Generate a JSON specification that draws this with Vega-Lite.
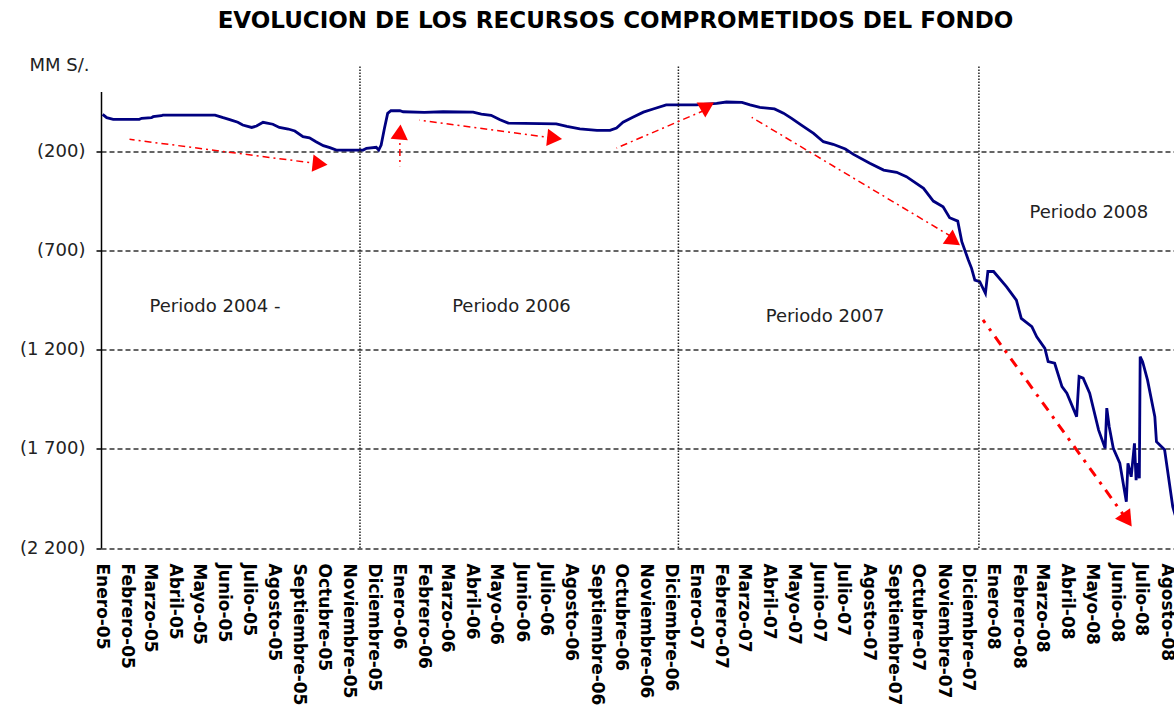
{
  "$schema": "https://vega.github.io/schema/vega-lite/v6.json",
  "width": 1075,
  "height": 456.5,
  "autosize": {"type": "none"},
  "padding": {"left": 101, "top": 91.5, "right": 0, "bottom": 157},
  "background": "white",
  "title": {
    "text": "EVOLUCION DE LOS RECURSOS COMPROMETIDOS DEL FONDO",
    "font": "DejaVu Sans",
    "fontSize": 23,
    "fontWeight": "bold",
    "color": "#000000",
    "anchor": "middle",
    "dx": -23,
    "offset": 24
  },
  "config": {
    "view": {"stroke": null}
  },
  "datasets": {
    "serie": [
      {"fecha": "2005-01-03", "valor": -15},
      {"fecha": "2005-01-08", "valor": -32},
      {"fecha": "2005-01-16", "valor": -40},
      {"fecha": "2005-02-17", "valor": -40},
      {"fecha": "2005-02-20", "valor": -35},
      {"fecha": "2005-03-04", "valor": -32},
      {"fecha": "2005-03-06", "valor": -27},
      {"fecha": "2005-03-16", "valor": -22},
      {"fecha": "2005-03-18", "valor": -19},
      {"fecha": "2005-05-21", "valor": -19},
      {"fecha": "2005-05-31", "valor": -32},
      {"fecha": "2005-06-10", "valor": -44},
      {"fecha": "2005-06-18", "valor": -55},
      {"fecha": "2005-06-24", "valor": -69},
      {"fecha": "2005-07-05", "valor": -81},
      {"fecha": "2005-07-11", "valor": -74},
      {"fecha": "2005-07-19", "valor": -55},
      {"fecha": "2005-07-31", "valor": -65},
      {"fecha": "2005-08-08", "valor": -81},
      {"fecha": "2005-08-19", "valor": -89},
      {"fecha": "2005-08-27", "valor": -99},
      {"fecha": "2005-09-06", "valor": -128},
      {"fecha": "2005-09-14", "valor": -133},
      {"fecha": "2005-09-22", "valor": -153},
      {"fecha": "2005-10-01", "valor": -173},
      {"fecha": "2005-10-09", "valor": -183},
      {"fecha": "2005-10-17", "valor": -195},
      {"fecha": "2005-11-19", "valor": -195},
      {"fecha": "2005-11-23", "valor": -186},
      {"fecha": "2005-12-05", "valor": -181},
      {"fecha": "2005-12-08", "valor": -195},
      {"fecha": "2005-12-11", "valor": -170},
      {"fecha": "2005-12-15", "valor": -86},
      {"fecha": "2005-12-19", "valor": -10},
      {"fecha": "2005-12-23", "valor": 3},
      {"fecha": "2006-01-03", "valor": 3},
      {"fecha": "2006-01-07", "valor": -2},
      {"fecha": "2006-02-02", "valor": -5},
      {"fecha": "2006-02-25", "valor": -2},
      {"fecha": "2006-04-03", "valor": -4},
      {"fecha": "2006-04-13", "valor": -14},
      {"fecha": "2006-04-25", "valor": -20},
      {"fecha": "2006-05-06", "valor": -42},
      {"fecha": "2006-05-16", "valor": -59},
      {"fecha": "2006-07-14", "valor": -63},
      {"fecha": "2006-07-27", "valor": -76},
      {"fecha": "2006-08-12", "valor": -88},
      {"fecha": "2006-09-02", "valor": -96},
      {"fecha": "2006-09-18", "valor": -96},
      {"fecha": "2006-09-26", "valor": -84},
      {"fecha": "2006-10-04", "valor": -55},
      {"fecha": "2006-10-16", "valor": -30},
      {"fecha": "2006-10-29", "valor": -4},
      {"fecha": "2006-11-10", "valor": 12},
      {"fecha": "2006-11-26", "valor": 33},
      {"fecha": "2007-01-02", "valor": 33},
      {"fecha": "2007-01-27", "valor": 40},
      {"fecha": "2007-02-08", "valor": 47},
      {"fecha": "2007-02-27", "valor": 45},
      {"fecha": "2007-03-09", "valor": 33},
      {"fecha": "2007-03-21", "valor": 20},
      {"fecha": "2007-04-08", "valor": 12},
      {"fecha": "2007-04-19", "valor": -9},
      {"fecha": "2007-04-29", "valor": -35},
      {"fecha": "2007-05-11", "valor": -69},
      {"fecha": "2007-05-26", "valor": -111},
      {"fecha": "2007-06-07", "valor": -153},
      {"fecha": "2007-06-19", "valor": -166},
      {"fecha": "2007-07-04", "valor": -190},
      {"fecha": "2007-07-14", "valor": -217},
      {"fecha": "2007-08-03", "valor": -262},
      {"fecha": "2007-08-20", "valor": -296},
      {"fecha": "2007-09-05", "valor": -307},
      {"fecha": "2007-09-17", "valor": -329},
      {"fecha": "2007-10-08", "valor": -388},
      {"fecha": "2007-10-20", "valor": -452},
      {"fecha": "2007-11-01", "valor": -481},
      {"fecha": "2007-11-09", "valor": -536},
      {"fecha": "2007-11-19", "valor": -553},
      {"fecha": "2007-11-24", "valor": -657},
      {"fecha": "2007-12-02", "valor": -749},
      {"fecha": "2007-12-06", "valor": -791},
      {"fecha": "2007-12-10", "valor": -850},
      {"fecha": "2007-12-16", "valor": -858},
      {"fecha": "2007-12-23", "valor": -917},
      {"fecha": "2007-12-26", "valor": -807},
      {"fecha": "2008-01-02", "valor": -807},
      {"fecha": "2008-01-18", "valor": -884},
      {"fecha": "2008-01-30", "valor": -951},
      {"fecha": "2008-02-05", "valor": -1043},
      {"fecha": "2008-02-18", "valor": -1085},
      {"fecha": "2008-02-24", "valor": -1136},
      {"fecha": "2008-03-05", "valor": -1194},
      {"fecha": "2008-03-09", "valor": -1261},
      {"fecha": "2008-03-17", "valor": -1269},
      {"fecha": "2008-03-26", "valor": -1387},
      {"fecha": "2008-04-01", "valor": -1420},
      {"fecha": "2008-04-13", "valor": -1538},
      {"fecha": "2008-04-16", "valor": -1336},
      {"fecha": "2008-04-21", "valor": -1344},
      {"fecha": "2008-04-29", "valor": -1420},
      {"fecha": "2008-05-10", "valor": -1606},
      {"fecha": "2008-05-18", "valor": -1698},
      {"fecha": "2008-05-20", "valor": -1495},
      {"fecha": "2008-05-23", "valor": -1589},
      {"fecha": "2008-05-28", "valor": -1698},
      {"fecha": "2008-06-05", "valor": -1773},
      {"fecha": "2008-06-13", "valor": -1967},
      {"fecha": "2008-06-15", "valor": -1773},
      {"fecha": "2008-06-19", "valor": -1841},
      {"fecha": "2008-06-23", "valor": -1673},
      {"fecha": "2008-06-25", "valor": -1858},
      {"fecha": "2008-06-27", "valor": -1773},
      {"fecha": "2008-06-29", "valor": -1849},
      {"fecha": "2008-06-30", "valor": -1236},
      {"fecha": "2008-07-03", "valor": -1261},
      {"fecha": "2008-07-09", "valor": -1353},
      {"fecha": "2008-07-18", "valor": -1538},
      {"fecha": "2008-07-20", "valor": -1664},
      {"fecha": "2008-07-30", "valor": -1705},
      {"fecha": "2008-08-09", "valor": -1992},
      {"fecha": "2008-08-12", "valor": -2034}
    ],
    "flechas": [
      {"flecha": 1, "pt": "ini", "fecha": "2005-02-05", "valor": -141},
      {"flecha": 1, "pt": "fin", "fecha": "2005-09-27", "valor": -265},
      {"flecha": 2, "pt": "ini", "fecha": "2006-01-03", "valor": -276},
      {"flecha": 2, "pt": "fin", "fecha": "2006-01-03", "valor": -104},
      {"flecha": 3, "pt": "ini", "fecha": "2006-01-27", "valor": -44},
      {"flecha": 3, "pt": "fin", "fecha": "2006-07-12", "valor": -135},
      {"flecha": 4, "pt": "ini", "fecha": "2006-09-26", "valor": -185},
      {"flecha": 4, "pt": "fin", "fecha": "2007-01-13", "valor": 7},
      {"flecha": 5, "pt": "ini", "fecha": "2007-03-11", "valor": -30},
      {"flecha": 5, "pt": "fin", "fecha": "2007-11-12", "valor": -633},
      {"flecha": 6, "pt": "ini", "fecha": "2007-12-20", "valor": -1051},
      {"flecha": 6, "pt": "fin", "fecha": "2008-06-14", "valor": -2059}
    ],
    "periodos": [
      {"texto": "Periodo 2004 -", "fecha": "2005-05-21", "valor": -986},
      {"texto": "Periodo 2006", "fecha": "2006-05-20", "valor": -986},
      {"texto": "Periodo 2007", "fecha": "2007-06-09", "valor": -1036},
      {"texto": "Periodo 2008", "fecha": "2008-04-28", "valor": -512}
    ],
    "cortes": [
      {"fecha": "2005-11-15"},
      {"fecha": "2006-12-11"},
      {"fecha": "2007-12-15"}
    ]
  },
  "layer": [
    {
      "data": {"name": "serie"},
      "mark": {"type": "line", "color": "#000080", "strokeWidth": 2.8},
      "encoding": {
        "x": {
          "field": "fecha",
          "type": "temporal",
          "title": null,
          "scale": {
            "type": "utc",
            "domain": [
              {"year": 2005, "month": 1, "date": 1, "utc": true},
              {"year": 2008, "month": 8, "date": 13, "utc": true}
            ]
          },
          "axis": {
            "title": null,
            "tickCount": {"interval": "month", "step": 1},
            "labelExpr": "['Enero','Febrero','Marzo','Abril','Mayo','Junio','Julio','Agosto','Septiembre','Octubre','Noviembre','Diciembre'][utcmonth(datum.value)] + '-' + utcFormat(datum.value, '%y')",
            "labelAngle": 90,
            "labelFont": "DejaVu Sans",
            "labelFontSize": 17,
            "labelFontWeight": "bold",
            "labelColor": "#000000",
            "labelPadding": 15,
            "labelOverlap": false,
            "labelFlush": false,
            "labelBound": false,
            "ticks": false,
            "tickSize": 0,
            "domain": false,
            "grid": false
          }
        },
        "y": {
          "field": "valor",
          "type": "quantitative",
          "title": "MM S/.",
          "scale": {"domain": [-2200, 100], "nice": false, "zero": false},
          "axis": {
            "title": "MM S/.",
            "titleAngle": 0,
            "titleX": -72,
            "titleY": -26,
            "titleAlign": "left",
            "titleBaseline": "middle",
            "titleFont": "DejaVu Sans",
            "titleFontSize": 18,
            "titleFontWeight": "normal",
            "titleColor": "#222222",
            "values": [-2200, -1700, -1200, -700, -200],
            "labelExpr": "datum.value < 0 ? '(' + replace(format(-datum.value, ','), ',', ' ') + ')' : format(datum.value, ',')",
            "labelFont": "DejaVu Sans",
            "labelFontSize": 18,
            "labelColor": "#222222",
            "labelPadding": 11,
            "tickSize": 5,
            "tickColor": "#000000",
            "tickWidth": 1.5,
            "domainColor": "#000000",
            "domainWidth": 1.5,
            "grid": true,
            "gridColor": "#333333",
            "gridWidth": 1.5,
            "gridDash": [5, 3]
          }
        }
      }
    },
    {
      "data": {"name": "cortes"},
      "mark": {"type": "rule", "color": "#222222", "strokeWidth": 1.5, "strokeDash": [1.5, 1.5]},
      "encoding": {
        "x": {"field": "fecha", "type": "temporal", "title": null, "scale": {"type": "utc"}},
        "y": {"datum": -2200, "type": "quantitative"},
        "y2": {"datum": 233}
      }
    },
    {
      "data": {"name": "flechas"},
      "transform": [{"filter": "datum.flecha != 6"}],
      "mark": {"type": "line", "color": "#ff0000", "strokeWidth": 1.5, "strokeDash": [7, 4, 2, 4]},
      "encoding": {
        "x": {"field": "fecha", "type": "temporal", "title": null, "scale": {"type": "utc"}},
        "y": {"field": "valor", "type": "quantitative", "title": "MM S/."},
        "detail": {"field": "flecha"},
        "order": {"field": "pt"}
      }
    },
    {
      "data": {"name": "flechas"},
      "transform": [{"filter": "datum.flecha == 6"}],
      "mark": {"type": "line", "color": "#ff0000", "strokeWidth": 3, "strokeDash": [10, 7, 3, 7]},
      "encoding": {
        "x": {"field": "fecha", "type": "temporal", "title": null, "scale": {"type": "utc"}},
        "y": {"field": "valor", "type": "quantitative", "title": "MM S/."},
        "order": {"field": "pt"}
      }
    },
    {
      "data": {"name": "flechas"},
      "transform": [{"filter": "datum.pt == 'fin' && (datum.flecha == 1 || datum.flecha == 3)"}],
      "mark": {"type": "point", "shape": "triangle-up", "filled": true, "color": "#ff0000", "opacity": 1, "size": 300, "angle": 96},
      "encoding": {
        "x": {"field": "fecha", "type": "temporal", "title": null, "scale": {"type": "utc"}},
        "y": {"field": "valor", "type": "quantitative", "title": "MM S/."}
      }
    },
    {
      "data": {"name": "flechas"},
      "transform": [{"filter": "datum.pt == 'fin' && (datum.flecha == 2 || datum.flecha == 5)"}],
      "mark": {"type": "point", "shape": "triangle-up", "filled": true, "color": "#ff0000", "opacity": 1, "size": 300, "angle": 5},
      "encoding": {
        "x": {"field": "fecha", "type": "temporal", "title": null, "scale": {"type": "utc"}},
        "y": {"field": "valor", "type": "quantitative", "title": "MM S/."}
      }
    },
    {
      "data": {"name": "flechas"},
      "transform": [{"filter": "datum.pt == 'fin' && datum.flecha == 4"}],
      "mark": {"type": "point", "shape": "triangle-up", "filled": true, "color": "#ff0000", "opacity": 1, "size": 300, "angle": 180},
      "encoding": {
        "x": {"field": "fecha", "type": "temporal", "title": null, "scale": {"type": "utc"}},
        "y": {"field": "valor", "type": "quantitative", "title": "MM S/."}
      }
    },
    {
      "data": {"name": "flechas"},
      "transform": [{"filter": "datum.pt == 'fin' && datum.flecha == 6"}],
      "mark": {"type": "point", "shape": "triangle-up", "filled": true, "color": "#ff0000", "opacity": 1, "size": 340, "angle": 145},
      "encoding": {
        "x": {"field": "fecha", "type": "temporal", "title": null, "scale": {"type": "utc"}},
        "y": {"field": "valor", "type": "quantitative", "title": "MM S/."}
      }
    },
    {
      "data": {"name": "periodos"},
      "mark": {"type": "text", "font": "DejaVu Sans", "fontSize": 18, "color": "#222222", "align": "center", "baseline": "middle"},
      "encoding": {
        "x": {"field": "fecha", "type": "temporal", "title": null, "scale": {"type": "utc"}},
        "y": {"field": "valor", "type": "quantitative", "title": "MM S/."},
        "text": {"field": "texto"}
      }
    }
  ]
}
